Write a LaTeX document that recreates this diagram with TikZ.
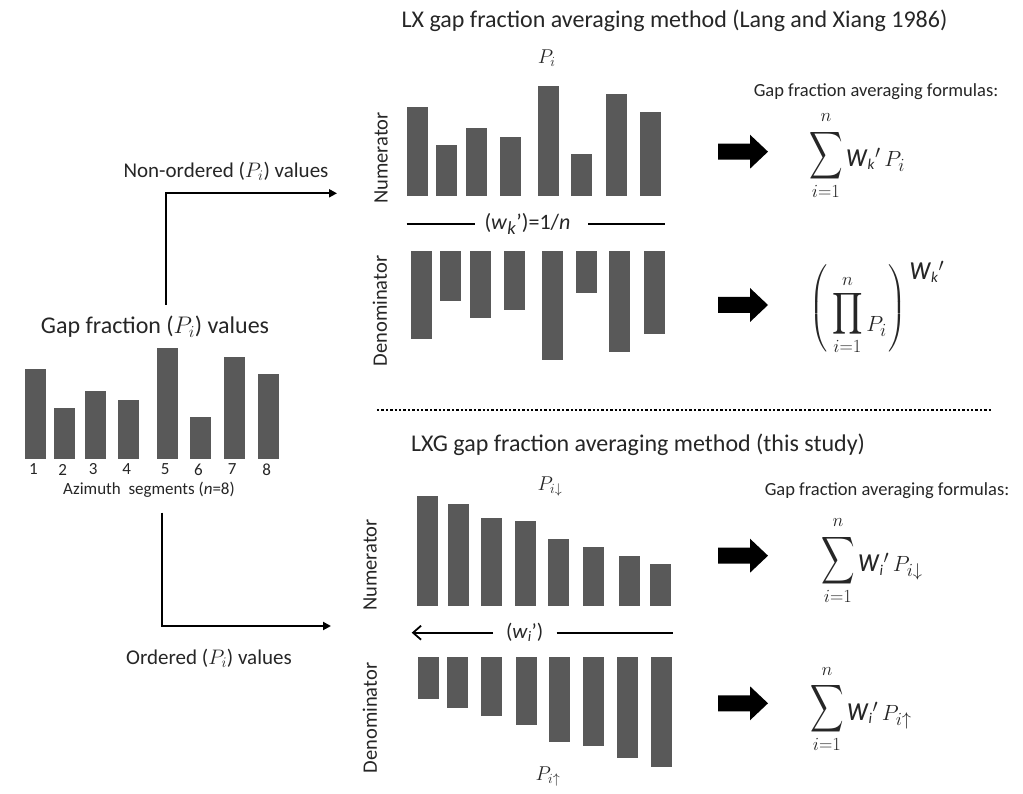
\RequirePackage{fix-cm}
\documentclass[tikz,border=0pt]{standalone}
\usepackage{amsmath}
\usepackage{fontspec}
\setmainfont{Carlito}
\usepackage{graphicx}
\usetikzlibrary{arrows.meta}
\DeclareMathSizes{22}{22}{18.5}{14}
\newcommand{\fsz}[1]{\fontsize{#1}{#1}\selectfont}
\newcommand{\bsum}{\mathop{\raisebox{2.5pt}{\scalebox{1.12}[1.6]{$\displaystyle\sum$}}}\limits}
\newcommand{\bprod}{\mathop{\raisebox{10.5pt}{\scalebox{1.15}[1.4]{$\displaystyle\prod$}}}\limits}
\newcommand{\uplim}[1]{\mbox{\raisebox{3pt}{$\scriptstyle #1$}}}
\newcommand{\uplimp}[1]{\mbox{\raisebox{1pt}{$\scriptstyle #1$}}}
\newcommand{\ww}{\mbox{\scalebox{1}[1.2]{\fsz{29}\textit{w}}}}
\newcommand{\sub}[1]{\mbox{\fsz{15}\textit{#1}}}
\newcommand{\lpar}{\raisebox{18pt}{$\left(\vrule height 46.5pt depth 35.5pt width 0pt\right.$}}
\newcommand{\rpar}{\raisebox{18pt}{$\left.\vrule height 46.5pt depth 35.5pt width 0pt\right)$}}
\definecolor{barc}{RGB}{89,89,89}
\definecolor{txt}{RGB}{38,38,38}
\begin{document}
\begin{tikzpicture}[x=1pt,y=-1pt,
  lbl/.style={inner sep=0pt, text=txt},
  fml/.style={inner sep=0pt, text=txt, font=\fsz{22}, anchor=base west},
  rot/.style={inner sep=0pt, text=txt, rotate=90, font=\fsz{20.5}},
  conn/.style={line width=2pt, -{Triangle[length=8pt,width=8pt]}},
  sepline/.style={line width=1.8pt},
  barrow/.pic={\fill[black] (0,-8) -- (32,-8) -- (32,-17) -- (50,0) -- (32,17) -- (32,8) -- (0,8) -- cycle;}]
\useasboundingbox[fill=white] (0,0) rectangle (1023,794);

% ---------- left chart ----------
\foreach \xl/\tp [count=\k] in {25/369,54.3/407.7,84.7/390.7,118.3/399.7,156.7/348.3,190/416.7,223.7/357.3,258.3/374}{
  \fill[barc] (\xl,\tp) rectangle ++(21,459-\tp);
  \node[lbl, font=\fsz{17}] at (\xl+8.5,469.5) {\k};
}
\node[lbl, font=\fsz{24}] (gf) at (155,327) {Gap fraction ($P_i$) values};
\node[lbl, font=\fsz{17}] (az) at (149,490) {Azimuth\ \ segments (\textit{n}=8)};

% ---------- connectors ----------
\node[lbl, font=\fsz{21}] (nonord) at (226,171) {Non-ordered ($P_i$) values};
\coordinate (ua) at (166,305);
\coordinate (ub) at (337,193.3);
\draw[conn] (ua) |- (ub);
\node[lbl, font=\fsz{21}] (ord) at (209,658) {Ordered ($P_i$) values};
\coordinate (la) at (162.3,512.7);
\coordinate (lb) at (331,626);
\draw[conn] (la) |- (lb);

% ---------- LX panel ----------
\node[lbl, font=\fsz{24}] (lxt) at (674.5,21) {LX gap fraction averaging method (Lang and Xiang 1986)};
\node[lbl, font=\fsz{20}] (pi1) at (546.7,58) {$P_i$};
\foreach \xl/\tp in {406.7/107.3,436/145.3,466/128.3,499.7/137.3,537.7/85.7,571.3/154.3,606/94.3,639.7/111.7}{
  \fill[barc] (\xl,\tp) rectangle ++(21,196.5-\tp);
}
\foreach \xl/\bt in {411/339,440.3/300.7,470.3/317.7,504/309.7,542/360,576/293,609.3/352.3,644/334.3}{
  \fill[barc] (\xl,250.7) rectangle ++(21,\bt-250.7);
}
\node[rot] (num1) at (381,158) {Numerator};
\node[rot] (den1) at (380,311) {Denominator};
\node[lbl, font=\fsz{22}] (wk) at (527.5,224.3) {(\textit{w}\textsubscript{\textit{k}}’)=1/\textit{n}};
\coordinate (s1a) at (406.7,224.3);
\coordinate (s1b) at (665,224.3);
\draw[sepline] (s1a) -- (wk.west -| 475,0);
\draw[sepline] (wk.east -| 588,0) -- (s1b);

\node[lbl, font=\fsz{18.5}] (gfa1) at (876,92) {Gap fraction averaging formulas:};
\pic at (718,151.7) {barrow};
\pic at (718,305) {barrow};
\node[fml] (f1) at (809,166.7) {$\bsum_{i=1}^{\uplim{n}} \ww_{\sub{k}}{}'\,P_i$};
\node[fml] (f2) at (809,331.7) {$\lpar\bprod_{i=1}^{\uplimp{n}} P_i\rpar\,\raisebox{52pt}{$\ww_{\sub{k}}{}'$}$};

% ---------- dotted divider ----------
\coordinate (d1) at (377,410);
\coordinate (d2) at (991,410);
\draw[line width=2.6pt, dash pattern=on 2.4pt off 2pt] (d1) -- (d2);

% ---------- LXG panel ----------
\node[lbl, font=\fsz{24}] (lxgt) at (638,445) {LXG gap fraction averaging method (this study)};
\node[lbl, font=\fsz{20}] (pid) at (550,487) {$P_{i\downarrow}$};
\foreach \xl/\tp in {416.7/496,448/504,480.7/517.7,515.3/520.7,548.3/539,583.3/546.7,618.7/555.7,650/563.7}{
  \fill[barc] (\xl,\tp) rectangle ++(21,606-\tp);
}
\foreach \xl/\bt in {417.7/699,447/708,481.3/716,515.7/725,549/741.7,582.7/746,617/758,651/767.3}{
  \fill[barc] (\xl,656.7) rectangle ++(21,\bt-656.7);
}
\node[rot] (num2) at (370,565) {Numerator};
\node[rot] (den2) at (370,718) {Denominator};
\node[lbl, font=\fsz{21}] (wi) at (524.7,632.7) {(\textit{w}\textsubscript{\textit{i}}’)};
\coordinate (s2a) at (411.7,632.7);
\coordinate (s2b) at (672.7,632.7);
\draw[sepline, -{Straight Barb[length=8pt,width=14pt]}] (wi.west -| 493,0) -- (s2a);
\draw[sepline] (wi.east -| 556.7,0) -- (s2b);
\node[lbl, font=\fsz{20}] (piu) at (548,777) {$P_{i\uparrow}$};

\node[lbl, font=\fsz{18.5}] (gfa2) at (887,491) {Gap fraction averaging formulas:};
\pic at (718,555.7) {barrow};
\pic at (718,703.3) {barrow};
\node[fml] (f3) at (821,571.7) {$\bsum_{i=1}^{\uplim{n}} \ww_{\sub{i}}{}'\,P_{i\downarrow}$};
\node[fml] (f4) at (810,720) {$\bsum_{i=1}^{\uplim{n}} \ww_{\sub{i}}{}'\,P_{i\uparrow}$};
\end{tikzpicture}
\end{document}
